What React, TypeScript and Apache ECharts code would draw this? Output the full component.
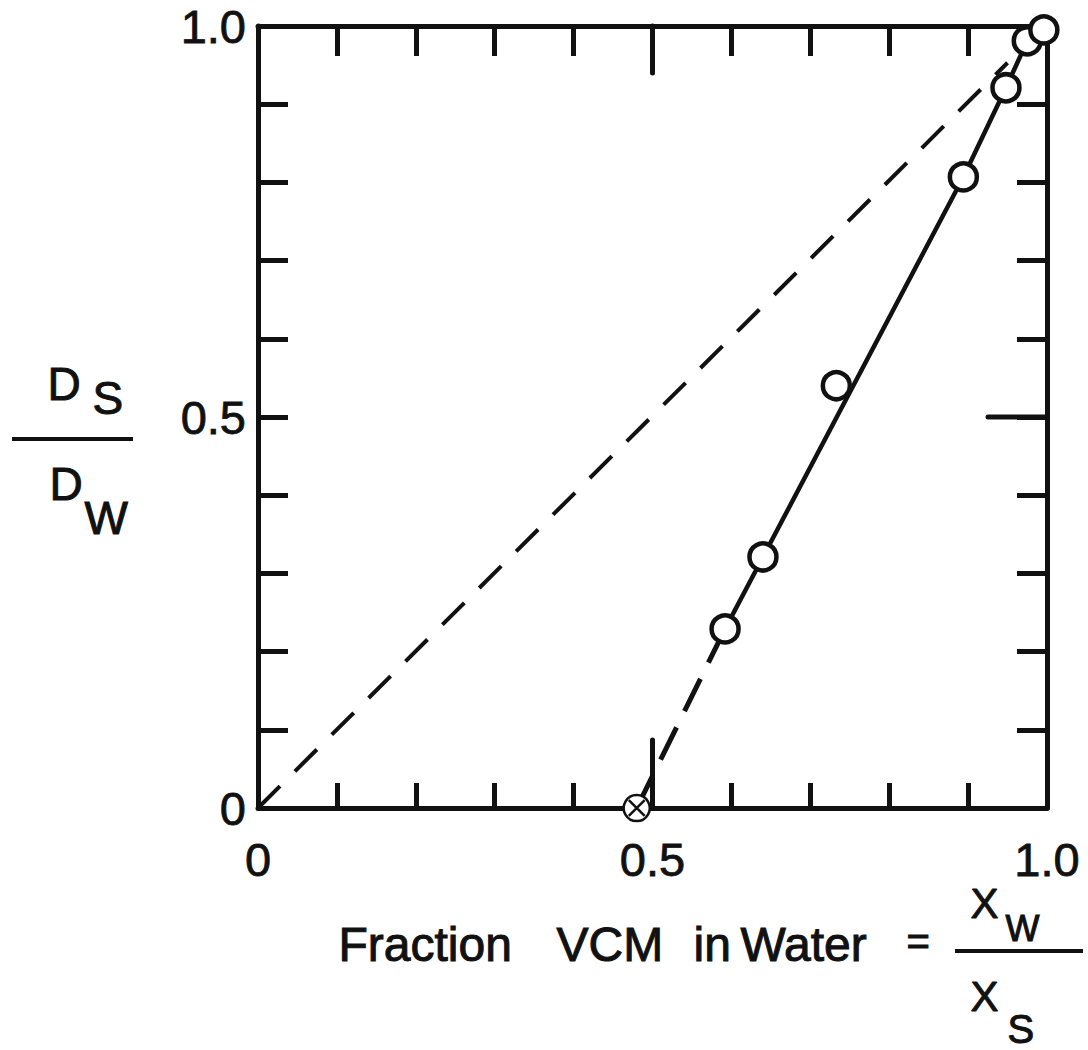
import React, { useEffect, useRef } from "react";
import * as echarts from "echarts";

// Measured points: fraction VCM in water (x) vs. D_S / D_W (y)
const xMeasured = [0.592, 0.64, 0.733, 0.894, 0.948, 0.975, 0.996];
const yMeasured = [0.229, 0.321, 0.54, 0.807, 0.921, 0.981, 0.995];

// Point at the origin of the extrapolation (crossed circle)
const xIntercept = [0.48];
const yIntercept = [0.0];

// Fitted curve through the data (solid part)
const xCurve = [0.592, 0.64, 0.894, 0.948, 0.975, 0.996];
const yCurve = [0.229, 0.321, 0.807, 0.921, 0.981, 0.995];

// Extrapolated (dashed) part of the curve
const xExtrap = [0.48, 0.592];
const yExtrap = [0.0, 0.229];

// Ideal diagonal reference line
const xDiagonal = [0.0, 0.95];
const yDiagonal = [0.0, 0.953];

// Axis labels
const labeledTicks = [0, 0.5, 1.0];
const tickTexts = ["0", "0.5", "1.0"];

// Emphasised mid-scale ticks on the bottom, top and right frame edges
const midTickX = [0.5, 0.5, 1.0];
const midTickY = [0.0, 1.0, 0.5];

const FONT = "Liberation Sans, Arial, sans-serif";
const INK = "#111";

const zip = (xs: number[], ys: number[]) => xs.map((x, i) => [x, ys[i]]);

const tickLabel = (v: number) => {
  const i = labeledTicks.findIndex((t) => Math.abs(t - v) < 1e-9);
  return i >= 0 ? tickTexts[i] : "";
};

const crossedCircle =
  "path://M50,4A46,46,0,1,1,49.9,4Z M22,22L78,78 M78,22L22,78";

// Lettering with a slightly heavier stroke
const letter = (text: string, left: number, top: number, size: number) => ({
  type: "text",
  left,
  top,
  style: { text, font: `${size}px ${FONT}`, fill: INK, stroke: INK, lineWidth: 1 },
});

// Draws a long inward tick from a frame edge
const renderMidTick = (params: any, api: any) => {
  const x = api.value(0);
  const y = api.value(1);
  const [px, py] = api.coord([x, y]);
  let dx = 0;
  let dy = 0;
  if (y === 0) dy = -68; // bottom edge, pointing up
  else if (y === 1) dy = 47; // top edge, pointing down
  else if (x === 1) dx = -59; // right edge, pointing left
  return {
    type: "line",
    shape: { x1: px, y1: py, x2: px + dx, y2: py + dy },
    style: { stroke: INK, lineWidth: 5, lineCap: "round" },
  };
};

export default function App() {
  const ref = useRef<HTMLDivElement>(null);

  useEffect(() => {
    if (!ref.current) return;
    const chart = echarts.init(ref.current, null, { renderer: "svg" });

    const frameLine = { show: true, onZero: false, lineStyle: { color: INK, width: 5 } };
    const tick = (length: number) => ({
      inside: true,
      length,
      lineStyle: { color: INK, width: 5 },
    });
    const baseAxis = {
      type: "value" as const,
      min: 0,
      max: 1,
      interval: 0.1,
      splitLine: { show: false },
    };
    const labelStyle = {
      formatter: tickLabel,
      fontSize: 47,
      fontFamily: FONT,
      color: INK,
      textBorderColor: INK,
      textBorderWidth: 0.8,
      showMinLabel: true,
      showMaxLabel: true,
    };

    chart.setOption({
      animation: false,
      backgroundColor: "#fff",
      grid: { left: 258, top: 26, right: 41, bottom: 242 },
      xAxis: [
        {
          ...baseAxis,
          position: "bottom",
          axisLine: frameLine,
          axisTick: tick(25),
          axisLabel: { ...labelStyle, margin: 28 },
        },
        {
          ...baseAxis,
          position: "top",
          axisLine: frameLine,
          axisTick: tick(30),
          axisLabel: { show: false },
        },
      ],
      yAxis: [
        {
          ...baseAxis,
          position: "left",
          axisLine: frameLine,
          axisTick: tick(30),
          axisLabel: { ...labelStyle, margin: 12 },
        },
        {
          ...baseAxis,
          position: "right",
          axisLine: frameLine,
          axisTick: tick(30),
          axisLabel: { show: false },
        },
      ],
      series: [
        {
          type: "custom",
          data: zip(midTickX, midTickY),
          renderItem: renderMidTick,
          clip: false,
          silent: true,
          z: 3,
        },
        {
          type: "line",
          data: zip(xDiagonal, yDiagonal),
          symbol: "none",
          clip: false,
          lineStyle: { color: INK, width: 4, type: [31, 21] },
        },
        {
          type: "line",
          data: zip(xExtrap, yExtrap),
          symbol: "none",
          clip: false,
          lineStyle: { color: INK, width: 5, type: [36, 18] },
        },
        {
          type: "line",
          data: zip(xCurve, yCurve),
          symbol: "none",
          clip: false,
          lineStyle: { color: INK, width: 4.5 },
        },
        {
          type: "scatter",
          data: zip(xMeasured, yMeasured),
          symbol: "circle",
          symbolSize: 27,
          clip: false,
          itemStyle: { color: "#fff", borderColor: INK, borderWidth: 4.5, opacity: 1 },
          z: 5,
        },
        {
          type: "scatter",
          data: zip(xIntercept, yIntercept),
          symbol: crossedCircle,
          symbolSize: 26,
          clip: false,
          itemStyle: { color: "#fff", borderColor: INK, borderWidth: 2.5, opacity: 1 },
          z: 6,
        },
      ],
      graphic: [
        // y-axis name: D_S / D_W
        letter("D", 47, 360, 46),
        letter("S", 92, 374, 46),
        {
          type: "line",
          shape: { x1: 12, y1: 439, x2: 133, y2: 439 },
          style: { stroke: INK, lineWidth: 4 },
        },
        letter("D", 49, 460, 46),
        letter("W", 84, 494, 46),

        // x-axis name
        letter("Fraction", 338, 920, 48),
        letter("VCM", 556, 920, 48),
        letter("in", 693, 920, 48),
        letter("Water", 740, 920, 48),
        letter("=", 906, 920, 40),
        letter("X", 970, 882, 42),
        letter("W", 1005, 910, 36),
        {
          type: "line",
          shape: { x1: 955, y1: 951, x2: 1083, y2: 951 },
          style: { stroke: INK, lineWidth: 4 },
        },
        letter("X", 970, 975, 42),
        letter("S", 1007, 1008, 40),
      ],
    });

    return () => chart.dispose();
  }, []);

  return (
    <div
      ref={ref}
      style={{ position: "fixed", left: 0, top: 0, width: 1088, height: 1050, background: "#fff" }}
    />
  );
}
